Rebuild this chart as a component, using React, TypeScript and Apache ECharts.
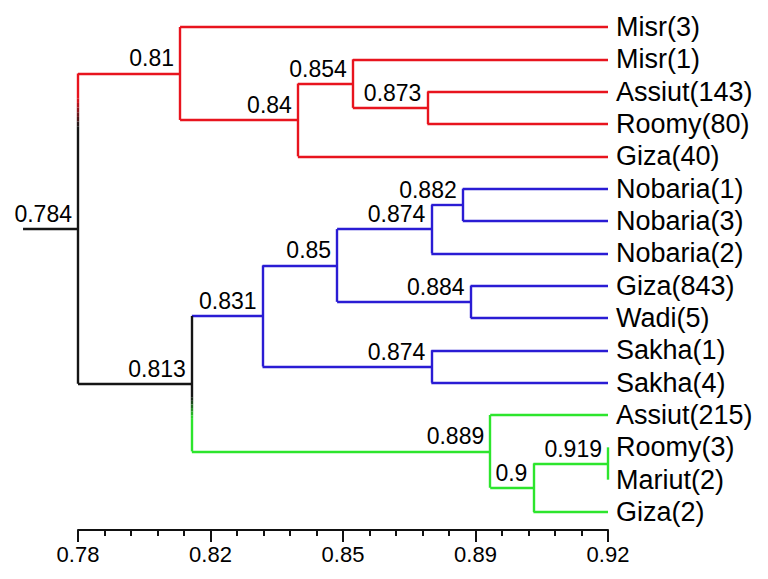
import { useEffect, useRef } from 'react';
import * as echarts from 'echarts';

// ---- data ----
const leaves = [
  'Misr(3)', 'Misr(1)', 'Assiut(143)', 'Roomy(80)', 'Giza(40)',
  'Nobaria(1)', 'Nobaria(3)', 'Nobaria(2)', 'Giza(843)', 'Wadi(5)',
  'Sakha(1)', 'Sakha(4)', 'Assiut(215)', 'Roomy(3)', 'Mariut(2)', 'Giza(2)',
];

// merge table: children are leaf indices (numbers) or node ids (strings)
const nodeIds = ['a', 'b', 'c', 'd', 'e', 'f', 'g', 'h', 'i', 'j', 'k', 'l', 'm', 'n', 'o'];
const nodeLeft: (number | string)[] = [2, 1, 'b', 0, 5, 'e', 8, 'f', 10, 'h', 13, 'k', 12, 'j', 'd'];
const nodeRight: (number | string)[] = [3, 'a', 4, 'c', 6, 7, 9, 'g', 11, 'i', 14, 15, 'l', 'm', 'n'];
const nodeSimilarity = [0.873, 0.854, 0.84, 0.81, 0.882, 0.874, 0.884, 0.85, 0.874, 0.831, 0.919, 0.9, 0.889, 0.813, 0.784];
const nodeCluster = ['red', 'red', 'red', 'red', 'blue', 'blue', 'blue', 'blue', 'blue', 'blue', 'green', 'green', 'green', 'root', 'root'];

const rootBranchFrom = 0.770;

// visible scale axis
const axisMin = 0.78;
const axisMax = 0.92;
const axisInterval = 0.035;
const tickValues = [0.78, 0.815, 0.85, 0.885, 0.92];
const tickLabels = ['0.78', '0.82', '0.85', '0.89', '0.92'];

// ---- styles ----
const COLORS: Record<string, string> = {
  red: '#e8141e',
  blue: '#2a1cd4',
  green: '#2de52d',
  root: '#151515',
};
const LINE_W = 2.4;
const FONT = '"Liberation Sans", Arial, Helvetica, sans-serif';
// colour fades along the two mixed vertical connectors (fractions from top)
const FADES: Record<string, { top: string; bottom: string; from: number; to: number }> = {
  o: { top: 'red', bottom: 'root', from: 0.08, to: 0.17 },
  n: { top: 'root', bottom: 'green', from: 0.6, to: 0.76 },
};

function hexToRgb(h: string) {
  const v = parseInt(h.slice(1), 16);
  return [(v >> 16) & 255, (v >> 8) & 255, v & 255];
}
function mix(a: string, b: string, t: number) {
  const A = hexToRgb(a);
  const B = hexToRgb(b);
  const c = A.map((x, i) => Math.round(x + (B[i] - x) * t));
  return `rgb(${c[0]},${c[1]},${c[2]})`;
}

function buildTree() {
  const treeMax = Math.max(...nodeSimilarity);
  const pos: Record<string, { x: number; y: number; cluster: string | null }> = {};
  leaves.forEach((_, i) => {
    pos['L' + i] = { x: treeMax, y: i, cluster: null };
  });
  const key = (c: number | string) => (typeof c === 'number' ? 'L' + c : c);
  const segs: { x1: number; y1: number; x2: number; y2: number; color: string }[] = [];
  const labels: { x: number; y: number; text: string }[] = [];
  nodeIds.forEach((id, i) => {
    const l = pos[key(nodeLeft[i])];
    const r = pos[key(nodeRight[i])];
    const x = nodeSimilarity[i];
    const y = (l.y + r.y) / 2;
    const cl = nodeCluster[i];
    pos[id] = { x, y, cluster: cl };
    // horizontal branches to children
    [l, r].forEach((c) => {
      const col = COLORS[c.cluster ?? cl];
      if (c.x !== x) segs.push({ x1: x, y1: c.y, x2: c.x, y2: c.y, color: col });
    });
    // vertical connector
    const f = FADES[id];
    if (!f) {
      segs.push({ x1: x, y1: l.y, x2: x, y2: r.y, color: COLORS[cl] });
    } else {
      const len = r.y - l.y;
      const ya = l.y + len * f.from;
      const yb = l.y + len * f.to;
      segs.push({ x1: x, y1: l.y, x2: x, y2: ya, color: COLORS[f.top] });
      const steps = 6;
      for (let s = 0; s < steps; s++) {
        const t0 = s / steps;
        const t1 = (s + 1) / steps;
        segs.push({
          x1: x, y1: ya + (yb - ya) * t0, x2: x, y2: ya + (yb - ya) * t1,
          color: mix(COLORS[f.top], COLORS[f.bottom], (t0 + t1) / 2),
        });
      }
      segs.push({ x1: x, y1: yb, x2: x, y2: r.y, color: COLORS[f.bottom] });
    }
    labels.push({ x, y, text: String(nodeSimilarity[i]) });
  });
  const root = pos[nodeIds[nodeIds.length - 1]];
  segs.push({ x1: rootBranchFrom, y1: root.y, x2: root.x, y2: root.y, color: COLORS.root });
  return { segs, labels };
}

export default function App() {
  const ref = useRef<HTMLDivElement>(null);
  useEffect(() => {
    if (!ref.current) return;
    const chart = echarts.init(ref.current, null, { renderer: 'svg' });
    const { segs, labels } = buildTree();
    const treeMin = Math.min(...nodeSimilarity);
    const treeMax = Math.max(...nodeSimilarity);
    chart.setOption({
      animation: false,
      backgroundColor: '#ffffff',
      grid: { left: 78, right: 160, top: 27, bottom: 67, containLabel: false },
      xAxis: [
        {
          type: 'value',
          min: axisMin,
          max: axisMax,
          interval: axisInterval,
          position: 'bottom',
          offset: 18,
          axisLine: { show: true, onZero: false, lineStyle: { color: '#111', width: 2 } },
          axisTick: { show: true, length: 12, lineStyle: { color: '#111', width: 2 } },
          minorTick: { show: true, splitNumber: 5, length: 6, lineStyle: { color: '#111', width: 2 } },
          splitLine: { show: false },
          minorSplitLine: { show: false },
          axisLabel: {
            show: true,
            margin: 13,
            fontSize: 22,
            color: '#000',
            fontFamily: FONT,
            formatter: (v: number) => {
              let best = 0;
              tickValues.forEach((t, i) => {
                if (Math.abs(t - v) < Math.abs(tickValues[best] - v)) best = i;
              });
              return tickLabels[best];
            },
          },
        },
        {
          type: 'value',
          min: treeMin,
          max: treeMax,
          show: false,
          axisLine: { onZero: false },
          splitLine: { show: false },
        },
      ],
      yAxis: [
        {
          type: 'value',
          min: 0,
          max: leaves.length - 1,
          inverse: true,
          show: false,
          axisLine: { onZero: false },
          splitLine: { show: false },
        },
        {
          type: 'category',
          data: leaves,
          inverse: true,
          boundaryGap: false,
          position: 'right',
          axisLine: { show: false, onZero: false },
          axisTick: { show: false },
          splitLine: { show: false },
          axisLabel: {
            interval: 0,
            margin: 8,
            fontSize: 27,
            color: '#000',
            fontFamily: FONT,
          },
        },
      ],
      series: [
        {
          type: 'lines',
          coordinateSystem: 'cartesian2d',
          xAxisIndex: 1,
          yAxisIndex: 0,
          clip: false,
          silent: true,
          lineStyle: { width: LINE_W, opacity: 1, curveness: 0 },
          data: segs.map((s) => ({
            coords: [[s.x1, s.y1], [s.x2, s.y2]],
            lineStyle: { color: s.color, width: LINE_W, opacity: 1 },
          })),
        },
        {
          type: 'scatter',
          xAxisIndex: 1,
          yAxisIndex: 0,
          silent: true,
          clip: false,
          symbolSize: 0,
          itemStyle: { color: '#000', opacity: 1 },
          label: {
            show: true,
            position: 'left',
            distance: 6,
            offset: [0, -15],
            fontSize: 23,
            color: '#000',
            opacity: 1,
            fontFamily: FONT,
            formatter: (p: any) => p.data.text,
          },
          data: labels.map((l) => ({ value: [l.x, l.y], text: l.text })),
        },
      ],
    });
    return () => chart.dispose();
  }, []);
  return (
    <div
      ref={ref}
      style={{ position: 'fixed', left: 0, top: 0, width: 768, height: 579, background: '#fff' }}
    />
  );
}
